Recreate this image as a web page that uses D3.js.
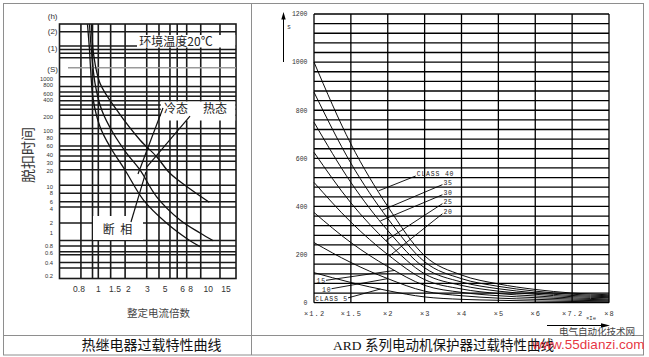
<!DOCTYPE html>
<html><head><meta charset="utf-8">
<script src="https://cdn.jsdelivr.net/npm/d3@7/dist/d3.min.js"></script>
<style>html,body{margin:0;padding:0;background:#fff;}svg{display:block}</style>
</head><body>
<svg id="chart" width="649" height="357"></svg>
<script>
// ===== Left chart: 热继电器过载特性曲线 =====
const leftYTickValues = [7200,3600,1000,800,600,400,200,100,80,60,40,30,20,10,8,6,4,2,1,0.8,0.6,0.4,0.2];
const leftYTickLabels = ["(2)","(1)","1000","800","600","400","200","100","80","60","40","30","20","10","8","6","4","2","1","0.8","0.6","0.4","0.2"];
const leftXTickValues = [0.8,1,1.5,2,3,5,6,8,10,15];
const leftXTickLabels = ["0.8","1","1.5","2","3","5","6","8","10","15"];
const leftGridX = [0.82,0.94,1,1.37,1.88,2.97,4.32,5.28,5.69,7,9.14,13.3];
const leftGridY = [7000,3900,3400,2900,2400,1100,750,630,500,380,320,270,210,110,90,60,50,38,32,21,10.5,8,6,4.5,2,0.88,0.8,0.64,0.56,0.4,0.3];
const curveA_mult = [0.888,0.909,0.919,0.948,1.051,1.35,1.876,2.79,5.1,7,9.06];
const curveA_sec  = [9500,3300,1640,390,121,58,20.6,6.4,1.96,0.91,0.78];
const curveB_mult = [0.909,0.924,0.966,1.102,1.449,1.94,2.616,4.06,5.85,9.06,11.41];
const curveB_sec  = [9500,4070,840,261,91.5,42.4,20.6,7.1,2.32,1,0.876];
const curveC_mult = [0.929,0.95,1.051,1.564,2.616,4.06,5.28,7,10.28];
const curveC_sec  = [9500,2890,840,261,73.5,37.2,17.7,10,5.8];
const leaderCold  = [[4.77,283],[2.51,17.2]];
const leaderHot   = [[7.83,204],[2.98,24.4]];
const leaderPhase = [[2.14,2.1],[2.93,18.8]];

// ===== Right chart: ARD 系列电动机保护器过载特性曲线 =====
const rightCategories = ["×1.2","×1.5","×2","×3","×4","×5","×6","×7.2","×8"];
const rightYTicks = [0,200,400,600,800,1000,1200];
const class40 = [1000,660,400,195,115,78,55,40,33];
const class35 = [875,580,350,170,100,68,48,35,29];
const class30 = [750,500,300,145,86,58,41,30,25];
const class25 = [625,415,250,120,72,48,35,25,21];
const class20 = [500,335,200,96,57,38,28,20,16];
const class15 = [375,250,150,72,43,29,21,15,12];
const class10 = [250,167,100,48,29,19,14,10,8];
const class5  = [125,84,50,24,14,10,7,5,4];
const upperLabels = ["CLASS 40","35","30","25","20"];
const lowerLabels = ["15","10","CLASS 5"];

// ---------------------------------------------------------------
const svg = d3.select("#chart");
const CJK = "'Noto Sans CJK SC','Noto Sans',sans-serif";
const MONO = "'Liberation Mono','DejaVu Sans Mono',monospace";

// table frame
const frame = svg.append("g").attr("fill","none").attr("stroke","#8e8e8e").attr("stroke-width",1);
frame.append("rect").attr("x",3.5).attr("y",3.5).attr("width",640).attr("height",351.5);
frame.append("line").attr("x1",251.5).attr("x2",251.5).attr("y1",3.5).attr("y2",355);
frame.append("line").attr("x1",3.5).attr("x2",643.5).attr("y1",335.5).attr("y2",335.5);

// ---------------- LEFT ----------------
const LP = {l:59.5, r:236, t:24, b:278.5};
const lx = d3.scaleLinear().domain(leftXTickValues).range([79,98.3,115,128.3,147.3,165,182.7,190.7,208.3,226]);
const ly = d3.scaleLog().domain(leftYTickValues).range([31,48,79,84.5,93.5,99.5,116.5,130.5,137.5,146,154.5,163.3,170.5,186.5,193.3,201.7,209,223,233,246,253.3,262.5,276]);
const GL = "#1a1a1a";
const gL = svg.append("g");
gL.append("g").selectAll("line").data(leftGridX).join("line")
  .attr("x1",d=>lx(d)).attr("x2",d=>lx(d)).attr("y1",LP.t).attr("y2",LP.b)
  .attr("stroke",GL).attr("stroke-width",1.6);
gL.append("g").selectAll("line").data(leftGridY).join("line")
  .attr("x1",LP.l).attr("x2",LP.r).attr("y1",d=>ly(d)).attr("y2",d=>ly(d))
  .attr("stroke",GL).attr("stroke-width",1.5);
gL.append("rect").attr("x",LP.l).attr("y",LP.t).attr("width",LP.r-LP.l).attr("height",LP.b-LP.t)
  .attr("fill","none").attr("stroke",GL).attr("stroke-width",1.6);
// (S) guide line
gL.append("line").attr("x1",68).attr("x2",LP.r).attr("y1",ly(1600)).attr("y2",ly(1600))
  .attr("stroke","#9a9a9a").attr("stroke-width",1.5);

// white label boxes
gL.append("rect").attr("x",137).attr("y",35).attr("width",LP.r-137-0.8).attr("height",12.5).attr("fill","#fff");
gL.append("rect").attr("x",160.8).attr("y",101.5).attr("width",LP.r-161.6).attr("height",19).attr("fill","#fff");
gL.append("rect").attr("x",93).attr("y",216).attr("width",50).attr("height",24).attr("fill","#fff");

gL.append("text").attr("x",176).attr("y",45.5).attr("text-anchor","middle")
  .attr("font-family",CJK).attr("font-size",12).attr("fill","#222").text("环境温度20℃");
gL.append("text").attr("x",176).attr("y",112.5).attr("text-anchor","middle")
  .attr("font-family",CJK).attr("font-size",12).attr("fill","#222").text("冷态");
gL.append("text").attr("x",215).attr("y",112.5).attr("text-anchor","middle")
  .attr("font-family",CJK).attr("font-size",12).attr("fill","#222").text("热态");
gL.append("text").attr("x",117.5).attr("y",233.5).attr("text-anchor","middle")
  .attr("font-family",CJK).attr("font-size",12).attr("fill","#222").attr("xml:space","preserve").text("断  相");

// curves
const lLine = d3.line().curve(d3.curveCatmullRom.alpha(0.5));
[[curveA_mult,curveA_sec],[curveB_mult,curveB_sec],[curveC_mult,curveC_sec]].forEach(([xs,ys])=>{
  gL.append("path").attr("d",lLine(xs.map((m,i)=>[lx(m),ly(ys[i])])))
    .attr("fill","none").attr("stroke","#111").attr("stroke-width",1.3);
});
[leaderCold,leaderHot,leaderPhase].forEach(seg=>{
  gL.append("path").attr("d",d3.line()(seg.map(p=>[lx(p[0]),ly(p[1])])))
    .attr("fill","none").attr("stroke","#111").attr("stroke-width",1.2);
});

// y tick labels
gL.append("g").selectAll("text").data(leftYTickValues).join("text")
  .attr("x",(d,i)=>leftYTickLabels[i].startsWith("(")?57.5:53)
  .attr("y",d=>ly(d)).attr("dy","0.35em").attr("text-anchor","end")
  .attr("font-family","'Liberation Sans',Arial,sans-serif")
  .attr("font-size",(d,i)=>leftYTickLabels[i].startsWith("(")?8:5.8)
  .attr("fill","#333").text((d,i)=>leftYTickLabels[i]);
gL.append("text").attr("x",57.5).attr("y",16).attr("dy","0.35em").attr("text-anchor","end")
  .attr("font-family","'Liberation Sans',Arial,sans-serif").attr("font-size",8).attr("fill","#333").text("(h)");
gL.append("text").attr("x",58).attr("y",ly(1600)+1.8).attr("dy","0.35em").attr("text-anchor","end")
  .attr("font-family","'Liberation Sans',Arial,sans-serif").attr("font-size",8).attr("fill","#333").text("(S)");
// x tick labels
gL.append("g").selectAll("text").data(leftXTickValues).join("text")
  .attr("x",d=>lx(d)).attr("y",289).attr("dy","0.35em").attr("text-anchor","middle")
  .attr("font-family","'Liberation Sans',Arial,sans-serif").attr("font-size",8.5)
  .attr("fill","#333").text((d,i)=>leftXTickLabels[i]);
// axis titles
gL.append("text").attr("x",158.5).attr("y",313.5).attr("dy","0.35em").attr("text-anchor","middle")
  .attr("font-family",CJK).attr("font-size",10.5).attr("fill","#444").text("整定电流倍数");
gL.append("text").attr("transform","translate(28,155) rotate(-90)").attr("text-anchor","middle")
  .attr("dy","0.35em").attr("font-family",CJK).attr("font-size",14).attr("fill","#333").text("脱扣时间");

// ---------------- RIGHT ----------------
const RP = {l:314, r:609, t:14, b:302.7};
const rx = d3.scalePoint().domain(rightCategories).range([RP.l,RP.r]);
const ry = d3.scaleLinear().domain([0,1200]).range([RP.b,RP.t]);
const gR = svg.append("g");
gR.append("g").selectAll("line").data(d3.range(0,1201,40)).join("line")
  .attr("x1",RP.l).attr("x2",RP.r).attr("y1",d=>ry(d)).attr("y2",d=>ry(d))
  .attr("stroke","#000").attr("stroke-width",1.3);
gR.append("g").selectAll("line").data(rightCategories).join("line")
  .attr("x1",d=>rx(d)).attr("x2",d=>rx(d)).attr("y1",RP.t).attr("y2",RP.b)
  .attr("stroke","#000").attr("stroke-width",1.3);

const series = [class40,class35,class30,class25,class20,class15,class10,class5];
const rLine = d3.line().x((d,i)=>rx(rightCategories[i])).y(d=>ry(d)).curve(d3.curveMonotoneX);
gR.append("g").selectAll("path").data(series).join("path")
  .attr("d",rLine).attr("fill","none").attr("stroke","#000").attr("stroke-width",0.95);

function xAt(idx){
  const i0=Math.floor(idx), i1=Math.min(i0+1,rightCategories.length-1), f=idx-i0;
  return rx(rightCategories[i0]) + f*(rx(rightCategories[i1])-rx(rightCategories[i0]));
}
function curvePt(s,idx){
  const i0=Math.floor(idx), i1=Math.min(i0+1,s.length-1), f=idx-i0;
  return [xAt(idx), ry(s[i0]+f*(s[i1]-s[i0]))];
}
// label layout (category index, value)
const upperPos = [[2.785,535],[3.51,499],[3.51,457],[3.51,420],[3.51,378]];
const upperTarget = [1.75,1.85,1.8,1.95,2.05];
const upperSeries = [class40,class35,class30,class25,class20];
upperLabels.forEach((lab,i)=>{
  const x=xAt(upperPos[i][0]), y=ry(upperPos[i][1]);
  gR.append("text").attr("x",x).attr("y",y).attr("dy","0.35em")
    .attr("font-family",MONO).attr("font-size",6.5).attr("letter-spacing",0.8)
    .attr("fill","#222").text(lab);
  const t=curvePt(upperSeries[i],upperTarget[i]);
  gR.append("line").attr("x1",x-1).attr("y1",y+2).attr("x2",t[0]).attr("y2",t[1])
    .attr("stroke","#000").attr("stroke-width",0.9);
});
const lowerPos = [[0.07,91],[0.22,56],[0.03,18]];
const lowerTarget = [2.2,2.0,1.8];
const lowerSeries = [class15,class10,class5];
lowerLabels.forEach((lab,i)=>{
  const x=xAt(lowerPos[i][0]), y=ry(lowerPos[i][1]);
  const tx = gR.append("text").attr("x",x).attr("y",y).attr("dy","0.35em")
    .attr("font-family",MONO).attr("font-size",6.5).attr("letter-spacing",0.8)
    .attr("fill","#222").text(lab);
  const w = tx.node().getComputedTextLength();
  const t=curvePt(lowerSeries[i],lowerTarget[i]);
  gR.append("line").attr("x1",x+w).attr("y1",y-0.5).attr("x2",t[0]).attr("y2",t[1])
    .attr("stroke","#000").attr("stroke-width",0.9);
});

// y labels
gR.append("g").selectAll("text").data(rightYTicks).join("text")
  .attr("x",307.5).attr("y",d=>ry(d)).attr("dy","0.35em").attr("text-anchor","end")
  .attr("font-family",MONO).attr("font-size",6.5).attr("fill","#333").text(d=>d);
// x labels
gR.append("g").selectAll("text").data(rightCategories).join("text")
  .attr("x",d=>rx(d)+0.6).attr("y",314).attr("dy","0.35em").attr("text-anchor","middle")
  .attr("font-family",MONO).attr("font-size",7).attr("letter-spacing",1.1)
  .attr("fill","#333").text(d=>d);
// axis arrows
gR.append("line").attr("x1",283.5).attr("x2",283.5).attr("y1",62).attr("y2",18).attr("stroke","#000").attr("stroke-width",1);
gR.append("path").attr("d","M283.5,12L281.3,19.5L285.7,19.5Z").attr("fill","#000");
gR.append("text").attr("x",287).attr("y",27).attr("dy","0.35em").attr("font-family",MONO).attr("font-size",6.5).attr("fill","#333").text("s");
gR.append("line").attr("x1",547).attr("x2",603).attr("y1",325.5).attr("y2",325.5).attr("stroke","#000").attr("stroke-width",1);
gR.append("path").attr("d","M610,325.5L601,323.2L601,327.8Z").attr("fill","#000");
gR.append("text").attr("x",591).attr("y",318.5).attr("dy","0.35em").attr("text-anchor","middle")
  .attr("font-family",MONO).attr("font-size",5.5).attr("fill","#333").text("×Ie");

// ---------------- captions ----------------
svg.append("text").attr("x",151.5).attr("y",350).attr("text-anchor","middle")
  .attr("font-family",CJK).attr("font-size",14).attr("fill","#111").text("热继电器过载特性曲线");
const cap = svg.append("text").attr("x",333).attr("y",350).attr("fill","#111").attr("font-size",13.5);
cap.append("tspan").attr("font-family","'Liberation Serif','Times New Roman',serif").text("ARD ");
cap.append("tspan").attr("font-family",CJK).text("系列电动机保护器过载特性曲线");
// watermark
svg.append("text").attr("x",597).attr("y",334.5).attr("text-anchor","middle")
  .attr("font-family",CJK).attr("font-size",9.5).attr("fill","#444").text("电气自动化技术网");
svg.append("text").attr("x",588.5).attr("y",349).attr("text-anchor","middle")
  .attr("font-family","'Liberation Sans',Arial,sans-serif").attr("font-size",13.5)
  .attr("fill","#e3192b").attr("fill-opacity",0.9).text("www.55dianzi.com");
</script>
</body></html>
